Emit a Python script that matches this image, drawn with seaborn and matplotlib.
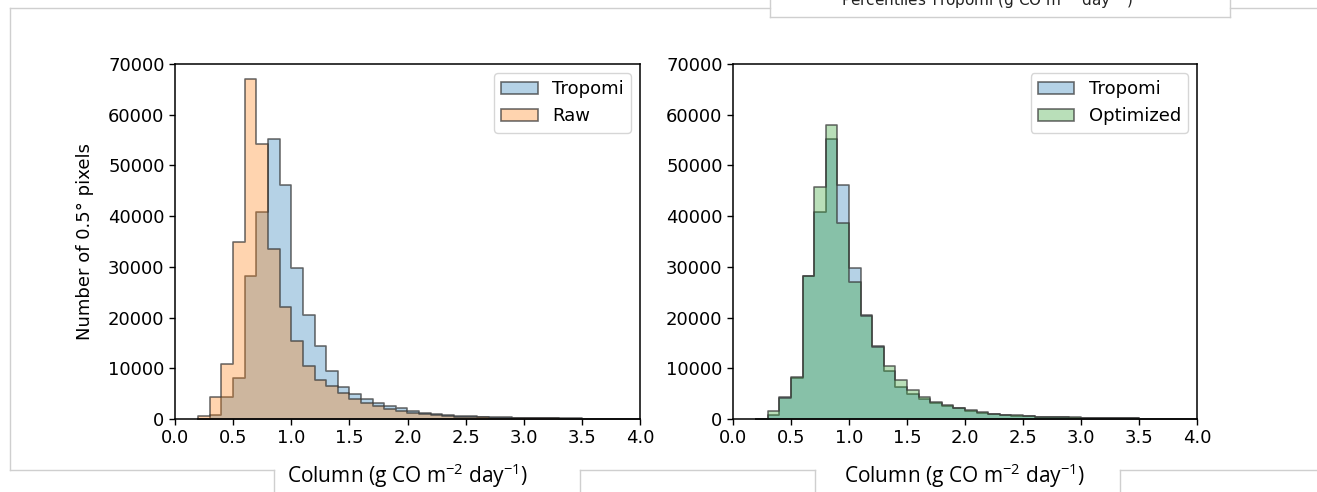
import numpy as np
import pandas as pd
import matplotlib
matplotlib.use("Agg")
import matplotlib.pyplot as plt
from matplotlib.lines import Line2D
import seaborn as sns

# ---------------- data ----------------
bin_edges = [round(0.2 + 0.1 * i, 1) for i in range(39)]  # 0.2 .. 4.0
bin_centers = [round(0.25 + 0.1 * i, 2) for i in range(38)]

tropomi = [0, 800, 4300, 8000, 28100, 40900, 55300, 46200, 29700, 20500,
           14300, 9500, 6400, 5000, 4000, 3200, 2600, 2100, 1650, 1250,
           1000, 800, 650, 550, 470, 400, 340, 290, 250, 210,
           170, 140, 110, 90, 70, 50, 35, 20]
raw = [500, 4300, 10900, 34900, 67000, 54300, 33500, 22000, 15300, 10400,
       7700, 6500, 5070, 4000, 3200, 2550, 2040, 1640, 1250, 920,
       720, 590, 480, 400, 340, 290, 240, 200, 170, 140,
       110, 90, 70, 55, 40, 30, 20, 10]
optimized = [0, 1600, 4200, 8200, 28100, 45700, 58000, 38600, 27100, 20300,
             14200, 10500, 7600, 5700, 4400, 3400, 2700, 2250, 1750, 1350,
             1050, 850, 700, 580, 490, 420, 360, 300, 260, 220,
             180, 150, 120, 95, 75, 55, 40, 25]

xticks = [0.0, 0.5, 1.0, 1.5, 2.0, 2.5, 3.0, 3.5, 4.0]
yticks = [0, 10000, 20000, 30000, 40000, 50000, 60000, 70000]

xlabel = r"Column (g CO m$^{\mathregular{-2}}$ day$^{\mathregular{-1}}$)"
ylabel = "Number of 0.5° pixels"
top_text = r"Percentiles Tropomi (g CO m$^{\mathregular{-2}}$ day$^{\mathregular{-1}}$)"

df = pd.DataFrame({"x": bin_centers, "Tropomi": tropomi, "Raw": raw,
                   "Optimized": optimized})

# ---------------- figure ----------------
plt.rcParams["font.family"] = "sans-serif"
plt.rcParams["font.sans-serif"] = ["DejaVu Sans"]
plt.rcParams["axes.linewidth"] = 1.1

fig = plt.figure(figsize=(13.17, 4.92), dpi=100)
ax1 = fig.add_axes([175 / 1317, 73 / 492, 465 / 1317, 355 / 492])
ax2 = fig.add_axes([733 / 1317, 73 / 492, 464 / 1317, 355 / 492])

edge = (0.2, 0.2, 0.2, 0.7)
alpha = 0.33

def hist(ax, col, color):
    sns.histplot(data=df, x="x", weights=col, bins=bin_edges, element="step",
                 fill=True, color=color, alpha=alpha, edgecolor=edge,
                 linewidth=1.2, label=col, ax=ax)

hist(ax1, "Tropomi", "#1f77b4")
hist(ax1, "Raw", "#ff7f0e")
hist(ax2, "Tropomi", "#1f77b4")
hist(ax2, "Optimized", "#2ca02c")

for ax in (ax1, ax2):
    ax.set_xlim(0, 4)
    ax.set_ylim(0, 70000)
    ax.set_xticks(xticks)
    ax.set_yticks(yticks)
    ax.tick_params(labelsize=13, length=4, width=1, colors="black")
    for s in ax.spines.values():
        s.set_visible(True)
        s.set_color("black")
    ax.set_xlabel(xlabel, fontsize=15, family=["Open Sans", "DejaVu Sans"])
    ax.xaxis.set_label_coords(0.5, -0.16)
    ax.xaxis.label.set_va("center")
    ax.set_ylabel("")
    ax.legend(loc="upper right", fontsize=13, frameon=True)

ax1.set_ylabel(ylabel, fontsize=13)
ax1.yaxis.set_label_coords(-0.1935, 0.5)
ax1.yaxis.label.set_va("center")

# ---------------- decorative frame pieces ----------------
W, H = 1317, 492
gray = "#cfcfcf"

def seg(x0, y0, x1, y1):
    fig.add_artist(Line2D([x0 / W, x1 / W], [1 - y0 / H, 1 - y1 / H],
                          color=gray, lw=1.0, transform=fig.transFigure))

seg(10, 8, 770, 8)
seg(1230, 8, 1317, 8)
seg(10, 8, 10, 470)
seg(10, 470, 274, 470)
seg(274, 470, 274, 492)
seg(580, 470, 815, 470)
seg(580, 470, 580, 492)
seg(815, 470, 815, 492)
seg(1120, 470, 1317, 470)
seg(1120, 470, 1120, 492)
# top box
seg(770, 0, 770, 17)
seg(770, 17, 1230, 17)
seg(1230, 0, 1230, 17)

fig.text(987 / W, 1 - 6 / H, top_text, ha="center", va="baseline",
         fontsize=11, color="#222222")

fig.savefig("out.png", dpi=100)
